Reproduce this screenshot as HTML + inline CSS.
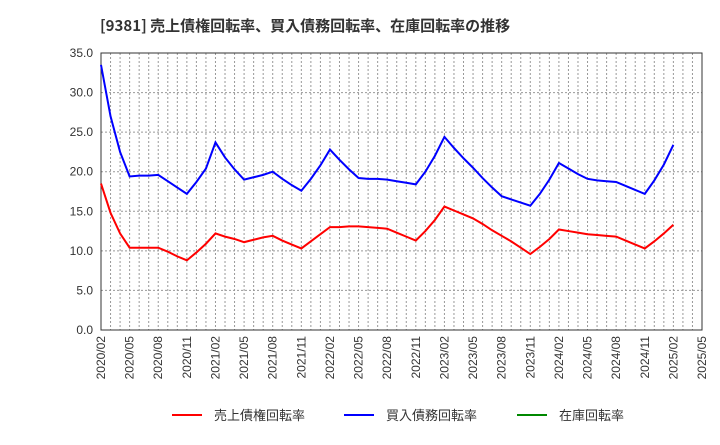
<!DOCTYPE html>
<html><head><meta charset="utf-8"><style>
body{margin:0;background:#fff;font-family:"Liberation Sans","Noto Sans CJK JP",sans-serif;}
</style></head><body>
<svg id="c" width="720" height="440" xmlns="http://www.w3.org/2000/svg"></svg>
<script>
const xLabels=["2020/02","2020/05","2020/08","2020/11","2021/02","2021/05","2021/08","2021/11","2022/02","2022/05","2022/08","2022/11","2023/02","2023/05","2023/08","2023/11","2024/02","2024/05","2024/08","2024/11","2025/02","2025/05"];
const yTicks=[0,5,10,15,20,25,30,35];
const receivables=[18.5,14.8,12.2,10.4,10.4,10.4,10.4,9.9,9.3,8.8,9.8,10.9,12.2,11.8,11.5,11.1,11.4,11.7,11.9,11.3,10.8,10.3,11.2,12.1,13.0,13.0,13.1,13.1,13.0,12.9,12.8,12.3,11.8,11.3,12.5,13.9,15.6,15.1,14.6,14.1,13.4,12.6,11.9,11.2,10.4,9.6,10.5,11.5,12.7,12.5,12.3,12.1,12.0,11.9,11.8,11.3,10.8,10.3,11.2,12.2,13.3];
const payables=[33.5,27.0,22.5,19.4,19.5,19.5,19.6,18.8,18.0,17.2,18.7,20.4,23.7,21.8,20.3,19.0,19.3,19.6,20.0,19.1,18.3,17.6,19.1,20.8,22.8,21.5,20.3,19.2,19.1,19.1,19.0,18.8,18.6,18.4,20.0,22.0,24.4,23.0,21.7,20.5,19.2,18.0,16.9,16.5,16.1,15.7,17.2,19.0,21.1,20.4,19.7,19.1,18.9,18.8,18.7,18.2,17.7,17.2,18.9,20.9,23.4];
const inventory=[];
const svg=document.getElementById('c');const NS="http://www.w3.org/2000/svg";
const L=101,R=702,T=53,B=330,nM=63,yMax=35;
const xs=i=>L+(R-L)*i/nM, ys=v=>B-(B-T)*v/yMax;
function mk(t,a,p){const e=document.createElementNS(NS,t);for(const k in a)e.setAttribute(k,a[k]);(p||svg).appendChild(e);return e;}
const title=mk('text',{x:100,y:31,'font-size':15,'font-weight':'bold',fill:'#333','font-family':'"Noto Sans CJK JP","Liberation Sans",sans-serif'});
title.textContent='[9381]  売上債権回転率、買入債務回転率、在庫回転率の推移';


for(let m=1;m<nM;m++){const g=mk('line',{x1:xs(m),x2:xs(m),y1:T,y2:B,stroke:'#999','stroke-dasharray':'2,2','stroke-width':1});

}
yTicks.forEach(v=>{if(v>0&&v<yMax){const g=mk('line',{x1:L,x2:R,y1:ys(v),y2:ys(v),stroke:'#999','stroke-dasharray':'2,2'});

}
const t=mk('text',{x:L-8,y:ys(v)+4,'font-size':12,'text-anchor':'end',fill:'#333'});t.textContent=v.toFixed(1);

});
const fr=mk('rect',{x:L,y:T,width:R-L,height:B-T,fill:'none',stroke:'#333'});


xLabels.forEach((s,i)=>{const x=xs(i*3);const t=mk('text',{transform:`translate(${x+4},${B+6}) rotate(-90)`,'font-size':12,'text-anchor':'end',fill:'#333'});t.textContent=s;

});
function line(d,c,n){if(!d.length)return;const p=mk('polyline',{points:d.map((v,i)=>xs(i)+','+ys(v)).join(' '),fill:'none',stroke:c,'stroke-width':2});

}
line(receivables,'#f00','receivables-turnover-line');
line(payables,'#00f','payables-turnover-line');
line(inventory,'#080','inventory-turnover-line');
[['売上債権回転率','#f00',172],['買入債務回転率','#00f',344],['在庫回転率','#080',517]].forEach(([s,c,x])=>{
const g=mk('g',{});

mk('line',{x1:x,x2:x+30,y1:415,y2:415,stroke:c,'stroke-width':2},g);
const t=mk('text',{x:x+42,y:420,'font-size':13,fill:'#333'},g);t.textContent=s;});
</script>
</body></html>
